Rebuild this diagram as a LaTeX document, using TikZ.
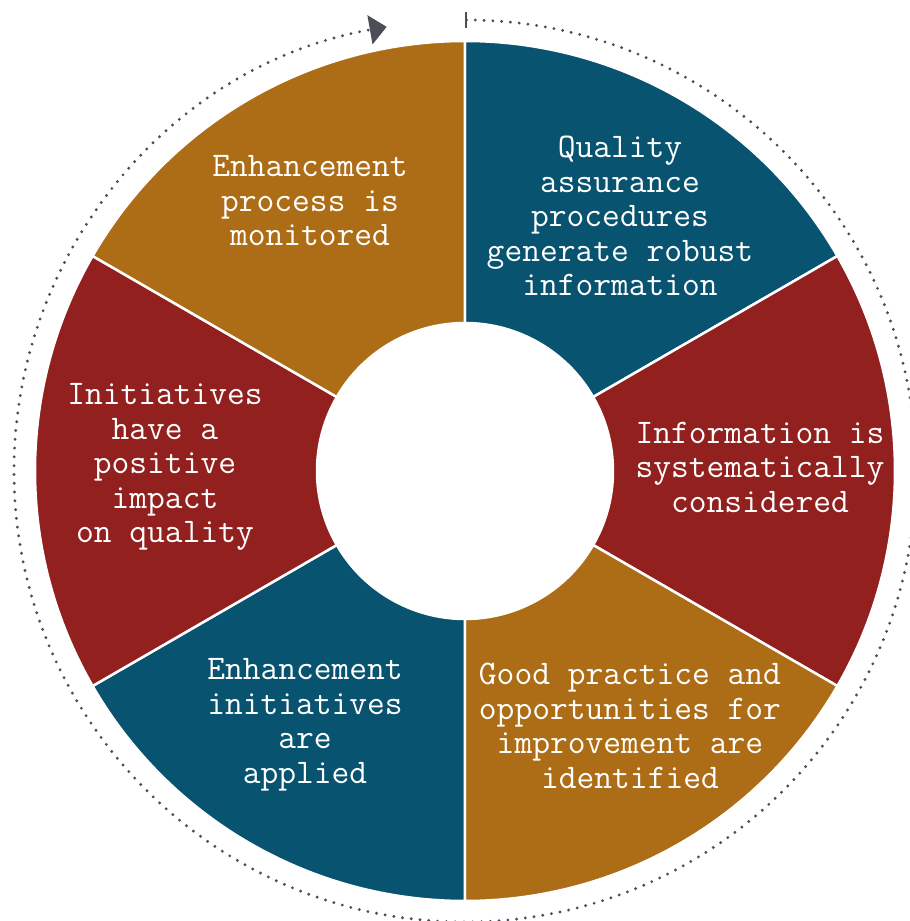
\documentclass[tikz,border=0pt]{standalone}
\usetikzlibrary{arrows.meta}

\definecolor{bleu}{HTML}{08536F}
\definecolor{rouge}{HTML}{91201E}
\definecolor{or}{HTML}{AD6D16}
\definecolor{gris}{HTML}{4B4E56}

\tikzset{
    etape/.style={text=white, align=center, font=\ttfamily\fontsize{34.5}{34.5}\selectfont}
}

\begin{document}
\begin{tikzpicture}[x=1pt, y=1pt]
    \useasboundingbox (-465,-450) rectangle (445,471);

    % Secteurs de l'anneau
    \foreach \deb/\coul in {30/bleu, -30/rouge, -90/or, -150/bleu, 150/rouge, 90/or} {
        \filldraw[fill=\coul, draw=white, line width=2.5pt]
            (\deb:430) arc[start angle=\deb, end angle=\deb+60, radius=430]
            -- (\deb+60:148) arc[start angle=\deb+60, end angle=\deb, radius=148] -- cycle;
    }

    % Cycle en pointillés autour de l'anneau
    \coordinate (depart) at (90:451);
    \draw[gris, line width=3.2pt, line cap=round, dash pattern=on 0pt off 8.8pt,
          {Bar[width=16pt, line width=2pt]}-{Triangle[width=29pt, length=17pt]}]
        (depart) arc[start angle=90, end angle=-260, radius=451];

    % Textes des étapes
    \node[etape] (qualite) at (155,255) {Quality\\assurance\\procedures\\generate robust\\information};
    \node[etape] (info) at (295,4) {Information is\\systematically\\considered};
    \node[etape] (pratique) at (165,-255) {Good practice and\\opportunities for\\improvement are\\identified};
    \node[etape] (applique) at (-160,-254) {Enhancement\\initiatives\\are\\applied};
    \node[etape] (impact) at (-300,4) {Initiatives\\have a\\positive\\impact\\on quality};
    \node[etape] (suivi) at (-155,270) {Enhancement\\process is\\monitored};

\end{tikzpicture}
\end{document}
